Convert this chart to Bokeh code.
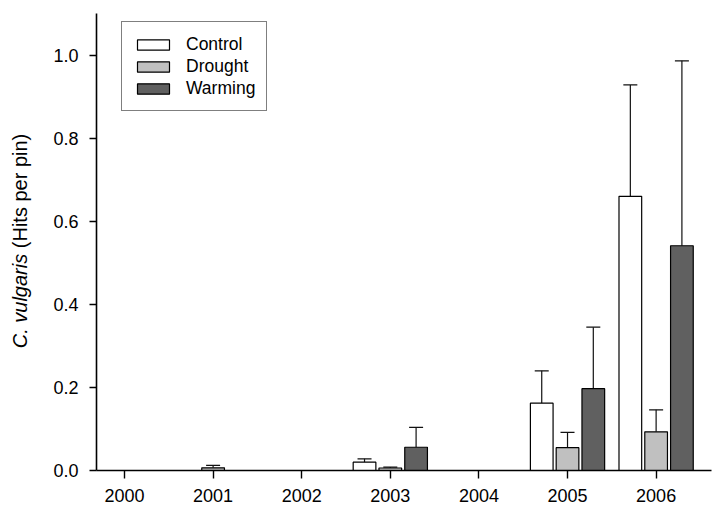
from bokeh.plotting import figure
from bokeh.layouts import row
from bokeh.models import Range1d, FixedTicker, NumeralTickFormatter, Legend, LegendItem, Div
from bokeh.embed import file_html
from bokeh.resources import INLINE

# ---- data ----
years = [2000, 2001, 2002, 2003, 2004, 2005, 2006]
control = [0, 0, 0, 0.020, 0, 0.162, 0.660]
control_err = [0, 0, 0, 0.008, 0, 0.078, 0.268]
drought = [0, 0.0065, 0, 0.006, 0, 0.055, 0.093]
drought_err = [0, 0.006, 0, 0.002, 0, 0.037, 0.053]
warming = [0, 0, 0, 0.056, 0, 0.197, 0.541]
warming_err = [0, 0, 0, 0.048, 0, 0.148, 0.445]
series_names = ["Control", "Drought", "Warming"]
y_ticks = [0.0, 0.2, 0.4, 0.6, 0.8, 1.0]
y_label_italic = "C. vulgaris"
y_label_plain = "(Hits per pin)"

# ---- styling ----
FONT = "Liberation Sans"
fills = ["#FFFFFF", "#C0C0C0", "#606060"]
offsets = [-0.291, 0.0, 0.291]
bar_w = 0.256
cap_half = 0.079

X0, X1 = 1999.684, 2006.625
LABEL_W = 40
H = 510
p = figure(width=724 - LABEL_W, height=H, output_backend="svg", toolbar_location=None,
           x_range=Range1d(X0, X1), y_range=Range1d(0, 1.1),
           min_border_left=96 - LABEL_W, min_border_right=13, min_border_top=13,
           min_border_bottom=40, margin=0)
p.outline_line_color = None
p.xgrid.visible = False
p.ygrid.visible = False
p.background_fill_color = "white"
p.border_fill_color = "white"

legend_items = []
for name, vals, errs, off, fill in zip(series_names, [control, drought, warming],
                                       [control_err, drought_err, warming_err], offsets, fills):
    xs = [yr + off for yr, v in zip(years, vals) if v > 0]
    tops = [v for v in vals if v > 0]
    ers = [e for v, e in zip(vals, errs) if v > 0]
    ends = [t + e for t, e in zip(tops, ers)]
    p.segment(x0=xs, y0=tops, x1=xs, y1=ends, line_color="#111111", line_width=1.2)
    p.segment(x0=[x - cap_half for x in xs], y0=ends, x1=[x + cap_half for x in xs], y1=ends,
              line_color="#111111", line_width=1.2)
    r = p.vbar(x=xs, top=tops, width=bar_w, bottom=0, fill_color=fill,
               line_color="black", line_width=1.2)
    legend_items.append(LegendItem(label=name, renderers=[r]))

legend = Legend(items=legend_items, location=(25, 359), orientation="vertical",
                glyph_width=40, glyph_height=13, label_standoff=13, padding=11, spacing=0,
                label_height=22, margin=0,
                border_line_color="black", border_line_width=1,
                background_fill_color="white", background_fill_alpha=1.0,
                label_text_font=FONT, label_text_font_size="17.5px", label_text_color="black")
p.add_layout(legend)

# axes
p.xaxis.ticker = FixedTicker(ticks=years)
p.yaxis.ticker = FixedTicker(ticks=y_ticks)
p.yaxis.formatter = NumeralTickFormatter(format="0.0")
for ax in (p.xaxis[0], p.yaxis[0]):
    ax.axis_line_color = "black"
    ax.axis_line_width = 1.6
    ax.major_tick_line_color = "black"
    ax.major_tick_line_width = 1.4
    ax.major_tick_in = 0
    ax.minor_tick_line_color = None
    ax.major_label_text_font = FONT
    ax.major_label_text_font_size = "18px"
    ax.major_label_text_color = "black"
p.xaxis.major_tick_out = 8
p.xaxis.major_label_standoff = 10
p.yaxis.major_tick_out = 7
p.yaxis.major_label_standoff = 11

# y axis title (mixed italic / plain) as rotated real text
span_style = ("position:absolute; left:20px; top:241px; white-space:nowrap; "
              "transform:translate(-50%,-50%) rotate(-90deg); "
              "font-family:'Liberation Sans'; font-size:20px; color:black; line-height:1;")
ylab = Div(text=f'<span style="{span_style}"><i>{y_label_italic}</i> {y_label_plain}</span>',
           width=LABEL_W, height=H, margin=0,
           styles={"position": "relative", "overflow": "visible"})

layout = row(ylab, p, spacing=0)
open("out.html", "w").write(file_html(layout, INLINE))
